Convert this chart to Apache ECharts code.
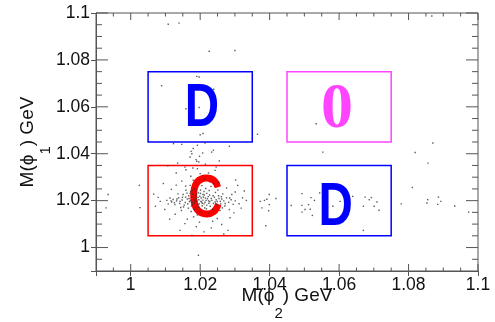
<!DOCTYPE html>
<html>
<head>
<meta charset="utf-8">
<script src="https://cdn.jsdelivr.net/npm/echarts@6/dist/echarts.min.js"></script>
<style>
  html, body { margin: 0; padding: 0; background: #fff; }
  #main { width: 495px; height: 322px; }
</style>
</head>
<body>
<div id="main"></div>
<script type="text/javascript">
// axis range and ticks
var axisMin = 0.99, axisMax = 1.1;
var xMajorTicks = [1, 1.02, 1.04, 1.06, 1.08, 1.1];
var xTickLabels = ['1', '1.02', '1.04', '1.06', '1.08', '1.1'];
var xMinorTicks = [0.995, 1.005, 1.01, 1.015, 1.025, 1.03, 1.035, 1.045, 1.05, 1.055, 1.065, 1.07, 1.075, 1.085, 1.09, 1.095];
var yMajorTicks = [1, 1.02, 1.04, 1.06, 1.08, 1.1];
var yTickLabels = ['1', '1.02', '1.04', '1.06', '1.08', '1.1'];
var yMinorTicks = [0.995, 1.005, 1.01, 1.015, 1.025, 1.03, 1.035, 1.045, 1.05, 1.055, 1.065, 1.07, 1.075, 1.085, 1.09, 1.095];

// signal / sideband boxes
var boxNames = ['D', '0', 'C', 'D'];
var boxXMin = [1.005, 1.045, 1.005, 1.045];
var boxXMax = [1.035, 1.075, 1.035, 1.075];
var boxYMin = [1.045, 1.045, 1.005, 1.005];
var boxYMax = [1.075, 1.075, 1.035, 1.035];
var letterX = [1.0205, 1.0594, 1.0215, 1.0590];
var letterY = [1.0589, 1.0584, 1.0201, 1.0169];

// events, M(phi2) vs M(phi1)
var corePts = [
  [1.0182,1.0205],[1.0191,1.0198],[1.0203,1.0211],[1.0214,1.0193],[1.0197,1.0187],[1.0176,1.0214],[1.0208,1.0202],[1.0221,1.0208],[1.0188,1.0221],[1.0169,1.0196],
  [1.0225,1.0189],[1.0234,1.0201],[1.0212,1.0224],[1.0195,1.0233],[1.0178,1.0183],[1.0163,1.0207],[1.0241,1.0214],[1.0206,1.0178],[1.0187,1.0172],[1.0219,1.0231],
  [1.0157,1.0192],[1.0148,1.0203],[1.0249,1.0196],[1.0229,1.0176],[1.0201,1.0245],[1.0173,1.0238],[1.0253,1.0221],[1.0166,1.0168],[1.0193,1.0161],[1.0236,1.0163],
  [1.0141,1.0188],[1.0138,1.0212],[1.0259,1.0186],[1.0262,1.0207],[1.0184,1.0251],[1.0216,1.0252],[1.0151,1.0226],[1.0244,1.0235],[1.0199,1.0151],[1.0226,1.0147],
  [1.0132,1.0199],[1.0127,1.0183],[1.0268,1.0199],[1.0271,1.0177],[1.0159,1.0244],[1.0231,1.0261],[1.0174,1.0154],[1.0257,1.0158],[1.0205,1.0264],[1.0192,1.0139],
  [1.0185,1.0196],[1.0211,1.0186],[1.0199,1.0219],[1.0223,1.0217],[1.0179,1.0227],[1.0167,1.0221],[1.0204,1.0194],[1.0189,1.0209],[1.0217,1.0201],[1.0196,1.0204],
  [1.0228,1.0196],[1.0172,1.0201],[1.0209,1.0215],[1.0183,1.0189],[1.0238,1.0188],[1.0154,1.0181],[1.0246,1.0204],[1.0162,1.0232],[1.0213,1.0169],[1.0187,1.0242],
  [1.0276,1.0212],[1.0122,1.0205],[1.0282,1.0193],[1.0118,1.0194],[1.0289,1.0204],[1.0113,1.0211],[1.0295,1.0184],[1.0108,1.0186],[1.0301,1.0199],[1.0104,1.0201],
  [1.0144,1.0171],[1.0251,1.0245],[1.0136,1.0229],[1.0265,1.0229],[1.0146,1.0158],[1.0264,1.0169],[1.0171,1.0265],[1.0239,1.0273],[1.0181,1.0131],[1.0221,1.0134],
  [1.0186,1.0201],[1.0194,1.0214],[1.0202,1.0197],[1.0177,1.0192],[1.0215,1.0211],[1.0208,1.0226],[1.0181,1.0216],[1.0224,1.0199],[1.0193,1.0183],[1.0168,1.0209],
  [1.0232,1.0209],[1.0201,1.0231],[1.0175,1.0177],[1.0219,1.0181],[1.0243,1.0194],[1.0158,1.0215],[1.0196,1.0171],[1.0227,1.0224],[1.0164,1.0186],[1.0211,1.0239],
  [1.0142,1.0197],[1.0254,1.0209],[1.0149,1.0214],[1.0237,1.0221],[1.0189,1.0228],[1.0206,1.0189],[1.0171,1.0231],[1.0247,1.0183],[1.0133,1.0207],[1.0258,1.0197],
  [1.0126,1.0191],[1.0272,1.0188],[1.0152,1.0173],[1.0261,1.0217],[1.0184,1.0164],[1.0218,1.0165],[1.0179,1.0244],[1.0226,1.0243],[1.0116,1.0199],[1.0285,1.0211]
];
var haloPts = [
  [1.0094,1.0273],[1.0156,1.0343],[1.0173,1.0304],[1.0180,1.0287],[1.0200,1.0315],[1.0224,1.0318],[1.0301,1.0237],[1.0308,1.0265],[1.0312,1.0187],[1.0142,1.0073],
  [1.0176,1.0052],[1.0156,1.0102],[1.0280,1.0073],[1.0262,1.0098],[1.0236,1.0112],[1.0198,1.0108],[1.0163,1.0121],[1.0128,1.0142],[1.0117,1.0248],[1.0131,1.0266],
  [1.0147,1.0283],[1.0211,1.0291],[1.0254,1.0278],[1.0276,1.0254],[1.0291,1.0226],[1.0322,1.0212],[1.0318,1.0168],[1.0297,1.0148],[1.0286,1.0127],[1.0249,1.0124],
  [1.0189,1.0089],[1.0211,1.0067],[1.0098,1.0162],[1.0085,1.0197],[1.0079,1.0214],[1.0333,1.0201],[1.0327,1.0241],[1.0302,1.0288],[1.0243,1.0329],[1.0192,1.0336],
  [1.0131,1.0318],[1.0066,1.0228],[1.0071,1.0176],[1.0112,1.0121],[1.0232,1.0084],[1.0268,1.0058],[1.0187,1.0278],[1.0227,1.0281],[1.0158,1.0262],[1.0284,1.0162]
];
var vBandPts = [
  [1.0108,1.0952],[1.0139,1.0957],[1.0226,1.0837],[1.0300,1.0840],[1.0089,1.0690],[1.0190,1.0730],[1.0197,1.0727],[1.0239,1.0675],[1.0197,1.0597],[1.0159,1.0592],
  [1.0200,1.0481],[1.0208,1.0486],[1.0123,1.0443],[1.0147,1.0440],[1.0192,1.0436],[1.0214,1.0446],[1.0284,1.0432],[1.0180,1.0422],[1.0238,1.0415],[1.0233,1.0407],
  [1.0176,1.0400],[1.0171,1.0386],[1.0174,1.0410],[1.0207,1.0403],[1.0198,1.0389],[1.0188,1.0375],[1.0190,1.0368],[1.0196,1.0365],[1.0135,1.0360],[1.0255,1.0369],
  [1.0215,1.0355],[1.0107,1.0348],[1.0246,1.0343],[1.0159,1.0332],[1.0179,1.0339]
];
var hBandPts = [
  [0.9935,1.0226],[0.9929,1.0169],[1.0025,1.0265],[1.0027,1.0170],[1.0195,0.9967],
  [1.0399,1.0226],[1.0392,1.0206],[1.0418,1.0209],[1.0385,1.0201],[1.0373,1.0197],[1.0399,1.0183],[1.0378,1.0169],[1.0397,1.0157],[1.0389,1.0093],
  [1.0462,1.0179],[1.0493,1.0230],[1.0519,1.0213],[1.0529,1.0201],[1.0512,1.0183],[1.0493,1.0180],[1.0502,1.0162],[1.0517,1.0163],[1.0493,1.0151],[1.0523,1.0137],
  [1.0544,1.0233],[1.0582,1.0176],[1.0603,1.0197],[1.0639,1.0218],[1.0675,1.0215],[1.0687,1.0204],[1.0693,1.0213],[1.0670,1.0176],[1.0701,1.0176],[1.0709,1.0194],
  [1.0715,1.0159],[1.0670,1.0073],
  [1.0779,1.0186],[1.0855,1.0204],[1.0853,1.0190],[1.0886,1.0215],[1.0893,1.0197],[1.0884,1.0184],[1.0933,1.0177],[1.0973,1.0151],[1.0811,1.0256],[1.0856,1.0360],
  [1.0534,1.0528],[1.0365,1.0483],[1.0553,1.0407],[1.0819,1.0405],[1.0870,1.0446],[1.0867,1.0987]
];

var FONT = 'Liberation Sans, Arial, Helvetica, sans-serif';
var boxColors = {'D': '#0000ff', '0': '#ff44ff', 'C': '#ff0000'};

function tickText(ticks, labels) {
  return function (v) {
    for (var i = 0; i < ticks.length; i++) {
      if (Math.abs(ticks[i] - v) < 1e-6) return labels[i];
    }
    return '';
  };
}

var titleRich = {
  a: { fontFamily: FONT, fontSize: 19, color: '#111', lineHeight: 51 },
  s: { fontFamily: FONT, fontSize: 15, color: '#111', lineHeight: 15, verticalAlign: 'bottom' }
};

function mkAxis(pos, ticks, labels, title, gap) {
  return {
    type: 'value', min: axisMin, max: axisMax,
    splitLine: { show: false },
    axisLabel: {
      customValues: ticks, formatter: tickText(ticks, labels),
      fontFamily: FONT, fontSize: 17.5, color: '#111',
      margin: (pos == 'bottom') ? 5 : 6
    },
    name: title, nameLocation: 'middle', nameGap: gap, nameMoveOverlap: false,
    nameTextStyle: { rich: titleRich }
  };
}

// tick rows: [value, 0 = x / 1 = y, 1 = major / 0 = minor]
var tickData = [];
xMajorTicks.forEach(function (v) { tickData.push([v, 0, 1]); });
xMinorTicks.forEach(function (v) { tickData.push([v, 0, 0]); });
yMajorTicks.forEach(function (v) { tickData.push([v, 1, 1]); });
yMinorTicks.forEach(function (v) { tickData.push([v, 1, 0]); });

var boxData = [];
for (var i = 0; i < boxNames.length; i++) {
  boxData.push([boxXMin[i], boxXMax[i], boxYMin[i], boxYMax[i], letterX[i], letterY[i], boxNames[i]]);
}

var myChart = echarts.init(document.getElementById('main'));
myChart.setOption({
  animation: false,
  grid: { left: 96, right: 17, top: 13, bottom: 51, outerBoundsMode: 'none', show: true, borderColor: '#555', borderWidth: 1 },
  xAxis: mkAxis('bottom', xMajorTicks, xTickLabels, '{a|M(ϕ}{s|2}{a|) GeV}', -1),
  yAxis: mkAxis('left', yMajorTicks, yTickLabels, '{a|M(ϕ}{s|1}{a|) GeV}', 42.5),
  series: [{
    // inward ticks on all four sides, ROOT style
    type: 'custom',
    data: tickData,
    renderItem: function (params, api) {
      var v = api.value(0), isY = api.value(1) == 1, major = api.value(2) == 1;
      if (!isY) {
        var len = major ? 7 : 3.5;
        var b = api.coord([v, axisMin]), t = api.coord([v, axisMax]);
        return { type: 'group', children: [
          { type: 'rect', shape: { x: b[0] - 0.5, y: b[1] - len, width: 1, height: len }, style: { fill: '#555' } },
          { type: 'rect', shape: { x: t[0] - 0.5, y: t[1], width: 1, height: len }, style: { fill: '#555' } }
        ] };
      }
      var ylen = major ? 12 : 6;
      var l = api.coord([axisMin, v]), r = api.coord([axisMax, v]);
      return { type: 'group', children: [
        { type: 'rect', shape: { x: l[0], y: l[1] - 0.5, width: ylen, height: 1 }, style: { fill: '#555' } },
        { type: 'rect', shape: { x: r[0] - ylen, y: r[1] - 0.5, width: ylen, height: 1 }, style: { fill: '#555' } }
      ] };
    }
  }, {
    type: 'scatter',
    symbol: 'rect', symbolSize: 1.4,
    itemStyle: { color: '#333' },
    data: [].concat(corePts, haloPts, vBandPts, hBandPts)
  }, {
    type: 'custom',
    data: boxData,
    renderItem: function (params, api) {
      var name = boxData[params.dataIndex][6];
      var col = boxColors[name];
      var p0 = api.coord([api.value(0), api.value(3)]);
      var p1 = api.coord([api.value(1), api.value(2)]);
      var c = api.coord([api.value(4), api.value(5)]);
      var serif = (name == '0');
      return {
        type: 'group',
        children: [{
          type: 'rect',
          shape: { x: p0[0], y: p0[1], width: p1[0] - p0[0], height: p1[1] - p0[1] },
          style: { fill: 'none', stroke: col, lineWidth: 1.5 }
        }, {
          type: 'text',
          x: c[0], y: c[1],
          scaleX: serif ? 1 : 0.78,
          style: {
            text: name, fill: col, align: 'center', verticalAlign: 'middle',
            font: serif ? 'bold 64px "Liberation Serif", "Times New Roman", serif' : 'bold 61px "Liberation Sans", Arial, sans-serif'
          }
        }]
      };
    }
  }]
});
</script>
</body>
</html>
